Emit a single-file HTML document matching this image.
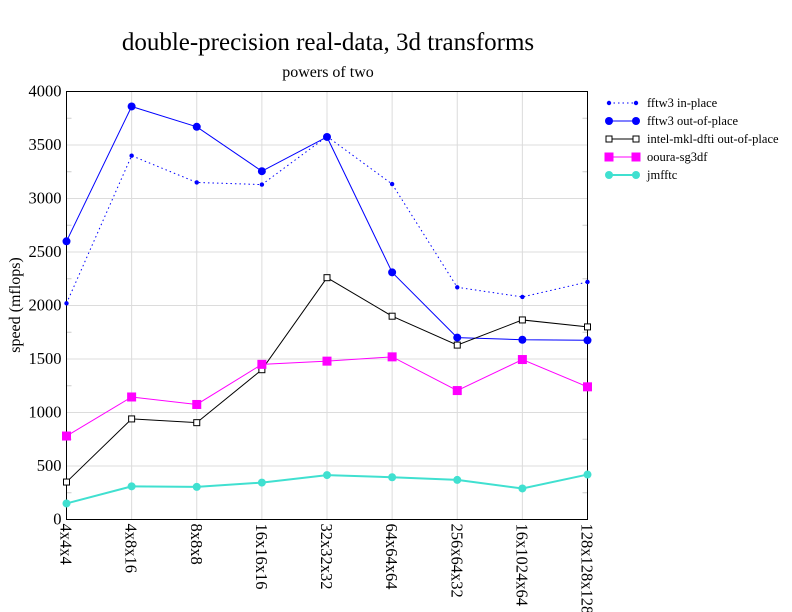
<!DOCTYPE html>
<html><head><meta charset="utf-8"><style>
body{margin:0;background:#fff;}
svg{display:block;font-family:"Liberation Serif",serif;}
</style></head><body>
<svg id="chart" width="792" height="612">
<text x="328" y="50" font-size="25" text-anchor="middle">double-precision real-data, 3d transforms</text>
<text x="328" y="77" font-size="16" text-anchor="middle">powers of two</text>
<text transform="translate(20,305) rotate(-90)" font-size="16" text-anchor="middle">speed (mflops)</text>
<g id="grid"></g><g id="axes"></g><g id="series"></g><g id="legend"></g>
</svg>
<script>
const categories=["4x4x4","4x8x16","8x8x8","16x16x16","32x32x32","64x64x64","256x64x32","16x1024x64","128x128x128"];
const yTicks=[0,500,1000,1500,2000,2500,3000,3500,4000];
const fftwIn=[2020,3400,3150,3130,3580,3135,2170,2080,2220];
const fftwOut=[2600,3860,3670,3255,3575,2310,1700,1680,1675];
const mkl=[350,940,905,1400,2260,1900,1630,1865,1800];
const ooura=[780,1145,1075,1450,1480,1520,1205,1495,1240];
const jmfftc=[150,310,305,345,415,395,370,290,420];
const names=["fftw3 in-place","fftw3 out-of-place","intel-mkl-dfti out-of-place","ooura-sg3df","jmfftc"];

const NS="http://www.w3.org/2000/svg";
const L=66.5,R=587.5,T=91.5,B=519.5;
const xs=i=>L+i*(R-L)/(categories.length-1);
const ys=v=>B-v*(B-T)/4000;
function mk(tag,at,parent){const e=document.createElementNS(NS,tag);for(const k in at)e.setAttribute(k,at[k]);parent.appendChild(e);return e;}
const grid=document.getElementById('grid'),axes=document.getElementById('axes'),ser=document.getElementById('series'),leg=document.getElementById('legend');
categories.forEach((c,i)=>{
 const g=mk('line',{x1:xs(i),x2:xs(i),y1:T,y2:B,stroke:'#dcdcdc','stroke-width':1},grid);
 
 
 const t=mk('text',{transform:`translate(${xs(i)-6},${B+4}) rotate(90)`,'font-size':16.5},axes);
 t.textContent=c;
 
 
});
yTicks.forEach(v=>{
 const g=mk('line',{x1:L,x2:R,y1:ys(v),y2:ys(v),stroke:'#dcdcdc','stroke-width':1},grid);
 
 
 if(v<4000){const m=mk('line',{x1:L,x2:L+5,y1:ys(v+250),y2:ys(v+250),stroke:'#ccc'},grid);
  const m2=mk('line',{x1:R-5,x2:R,y1:ys(v+250),y2:ys(v+250),stroke:'#ccc'},grid);}
 const t=mk('text',{x:L-5,y:ys(v)+5,'font-size':16.5,'text-anchor':'end'},axes);
 t.textContent=v;
 
 
});
const frame=mk('rect',{x:L,y:T,width:R-L,height:B-T,fill:'none',stroke:'#000','stroke-width':1},axes);


const defs=[
 {d:fftwIn,c:'#0000ff',dash:'1.5,3',m:'dot',r:2.2,w:1},
 {d:fftwOut,c:'#0000ff',dash:'',m:'dot',r:4,w:1},
 {d:mkl,c:'#000',dash:'',m:'sq',r:3,w:1},
 {d:ooura,c:'#ff00ff',dash:'',m:'fsq',r:4.5,w:1},
 {d:jmfftc,c:'#40e0d0',dash:'',m:'dot',r:4,w:2}];
function marker(p,x,y,s){
 let e;
 if(s.m==='dot')e=mk('circle',{cx:x,cy:y,r:s.r,fill:s.c},p);
 else if(s.m==='sq')e=mk('rect',{x:x-s.r,y:y-s.r,width:2*s.r,height:2*s.r,fill:'#fff',stroke:s.c},p);
 else e=mk('rect',{x:x-s.r,y:y-s.r,width:2*s.r,height:2*s.r,fill:s.c},p);
 return e;
}
defs.forEach((s,k)=>{
 const g=mk('g',{},ser);
 
 
 const pl=mk('polyline',{points:s.d.map((v,i)=>xs(i)+','+ys(v)).join(' '),fill:'none',stroke:s.c,'stroke-width':s.w,'stroke-dasharray':s.dash},g);
 
 
 s.d.forEach((v,i)=>{const m=marker(g,xs(i),ys(v),s);
  
  });
 const ly=103+k*18;
 const lg=mk('g',{},leg);
 
 
 mk('line',{x1:609,x2:636,y1:ly,y2:ly,stroke:s.c,'stroke-width':s.w,'stroke-dasharray':s.dash},lg);
 marker(lg,609,ly,s);marker(lg,636,ly,s);
 const t=mk('text',{x:647,y:ly+4,'font-size':12.5},lg);
 t.textContent=names[k];
});
</script>
</body></html>
